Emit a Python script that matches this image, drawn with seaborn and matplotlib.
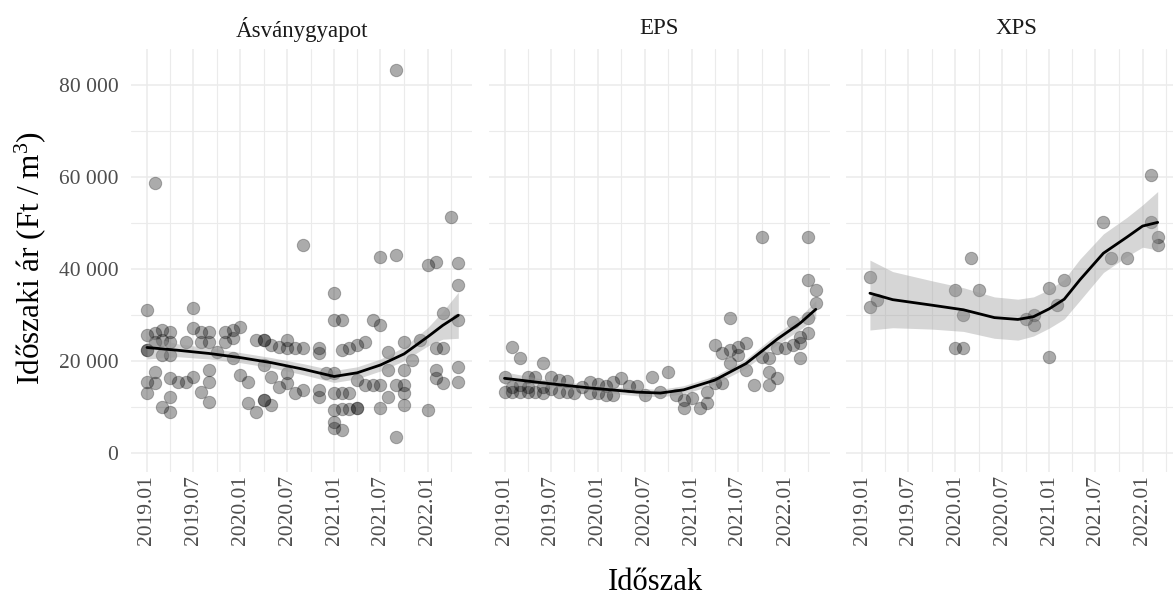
import numpy as np
import pandas as pd
import matplotlib
matplotlib.use("Agg")
import matplotlib.pyplot as plt
import matplotlib.dates as mdates
from matplotlib.ticker import FuncFormatter, MultipleLocator
import seaborn as sns

# ---------------- data ----------------
panels = ["Ásványgyapot", "EPS", "XPS"]

asv_dates = (["2019-01"] * 6 + ["2019-02"] * 5 + ["2019-03"] * 4 + ["2019-04"] * 6 +
             ["2019-05"] * 1 + ["2019-06"] * 2 + ["2019-07"] * 3 + ["2019-08"] * 3 +
             ["2019-09"] * 5 + ["2019-10"] * 1 + ["2019-11"] * 2 + ["2019-12"] * 3 +
             ["2020-01"] * 2 + ["2020-02"] * 2 + ["2020-03"] * 2 + ["2020-04"] * 5 +
             ["2020-05"] * 3 + ["2020-06"] * 2 + ["2020-07"] * 4 + ["2020-08"] * 2 +
             ["2020-09"] * 3 + ["2020-11"] * 4 + ["2020-12"] * 1 + ["2021-01"] * 7 +
             ["2021-02"] * 5 + ["2021-03"] * 3 + ["2021-04"] * 4 + ["2021-05"] * 2 +
             ["2021-06"] * 2 + ["2021-07"] * 4 + ["2021-08"] * 3 + ["2021-09"] * 4 +
             ["2021-10"] * 5 + ["2021-11"] * 1 + ["2021-12"] * 1 + ["2022-01"] * 2 +
             ["2022-02"] * 4 + ["2022-03"] * 3 + ["2022-04"] * 1 + ["2022-05"] * 5)
asv_prices = [31150, 25700, 22450, 22450, 15570, 13040,
              58700, 26090, 24260, 17740, 15220,
              26800, 24630, 21370, 10130,
              26430, 24260, 21370, 16300, 12300, 9040,
              15570,
              24260, 15570,
              31520, 27170, 16650,
              26430, 24260, 13390,
              26430, 24260, 18110, 15570, 11220,
              21960,
              26430, 24260,
              26800, 25000, 20650,
              27520, 17020,
              15570, 10870,
              24630, 9040,
              24630, 24630, 19200, 11590, 11590,
              23540, 16650, 10500,
              23200, 14480,
              24630, 22830, 17390, 15220,
              22830, 13040,
              45280, 22830, 13760,
              22830, 21740, 13760, 12300,
              17390,
              34780, 28980, 17390, 13040, 9410, 6870, 5430,
              28980, 22450, 13040, 9590, 5070,
              22830, 13040, 9590,
              23540, 15930, 9770, 9770,
              24260, 14850,
              28980, 14850,
              42740, 27890, 14850, 9770,
              22090, 18110, 12300,
              83330, 43110, 14850, 3610,
              24260, 18110, 14850, 13040, 10500,
              20280,
              24630,
              40930, 9410,
              41650, 22830, 18110, 16300,
              30430, 22830, 15220,
              51430,
              41300, 36590, 28980, 18830, 15570]

eps_dates = (["2019-01"] * 2 + ["2019-02"] * 3 + ["2019-03"] * 3 + ["2019-04"] * 3 +
             ["2019-05"] * 2 + ["2019-06"] * 3 + ["2019-07"] * 2 + ["2019-08"] * 2 +
             ["2019-09"] * 2 + ["2019-10"] * 1 + ["2019-11"] * 1 + ["2019-12"] * 2 +
             ["2020-01"] * 2 + ["2020-02"] * 2 + ["2020-03"] * 2 + ["2020-04"] * 1 +
             ["2020-05"] * 1 + ["2020-06"] * 1 + ["2020-07"] * 1 + ["2020-08"] * 1 +
             ["2020-09"] * 1 + ["2020-10"] * 1 + ["2020-11"] * 1 + ["2020-12"] * 2 +
             ["2021-01"] * 1 + ["2021-02"] * 1 + ["2021-03"] * 2 + ["2021-04"] * 2 +
             ["2021-05"] * 2 + ["2021-06"] * 3 + ["2021-07"] * 2 + ["2021-08"] * 2 +
             ["2021-09"] * 1 + ["2021-10"] * 2 + ["2021-11"] * 3 + ["2021-12"] * 2 +
             ["2022-01"] * 1 + ["2022-02"] * 2 + ["2022-03"] * 3 + ["2022-04"] * 4 +
             ["2022-05"] * 2)
eps_prices = [16650, 13390,
              23170, 14500, 13390,
              20650, 14900, 13390,
              16650, 14500, 13390,
              16650, 13390,
              19570, 14500, 13000,
              16650, 14000,
              16000, 13390,
              15700, 13390,
              13000,
              14500,
              15500, 13000,
              15000, 13000,
              14600, 12700,
              15500, 12600,
              16300,
              14600,
              14600,
              12600,
              16650,
              13390,
              17740,
              12600,
              11500, 9780,
              11960,
              9780,
              13390, 10870,
              23540, 15220,
              21740, 15220,
              29350, 22450, 19570,
              23170, 21370,
              23910, 18110,
              14850,
              47090, 21000,
              20650, 17740, 14850,
              22830, 16300,
              22830,
              28610, 23540,
              25350, 23910, 20650,
              47090, 37670, 29350, 26090,
              35500, 32610]

xps_dates = (["2019-02"] * 2 + ["2019-03"] * 1 + ["2020-01"] * 2 + ["2020-02"] * 2 +
             ["2020-03"] * 1 + ["2020-04"] * 1 + ["2020-10"] * 1 + ["2020-11"] * 2 +
             ["2021-01"] * 2 + ["2021-02"] * 1 + ["2021-03"] * 1 + ["2021-08"] * 1 +
             ["2021-09"] * 1 + ["2021-11"] * 1 + ["2022-02"] * 2 + ["2022-03"] * 2)
xps_prices = [38390, 31870,
              33330,
              35500, 22830,
              30070, 22830,
              42390,
              35500,
              29130,
              30070, 27890,
              35870, 21000,
              32240,
              37670,
              50350,
              42390,
              42390,
              60500, 50350,
              47090, 45280]

# loess fits: date, fitted value, lower, upper
asv_fit_dates = ["2019-01", "2019-05", "2019-09", "2020-01", "2020-05", "2020-09",
                 "2021-01", "2021-04", "2021-07", "2021-10", "2022-01", "2022-03", "2022-05"]
asv_fit = [23000, 22400, 21700, 20800, 19700, 18300, 16700, 17500, 19200, 21600, 25300, 27800, 30000]
asv_lo = [20500, 21000, 20500, 19700, 18600, 17100, 15400, 16200, 17900, 20100, 23300, 24800, 25000]
asv_hi = [25500, 23800, 22900, 21900, 20800, 19500, 18000, 18800, 20500, 23100, 27300, 30800, 35000]

eps_fit_dates = ["2019-01", "2019-06", "2019-12", "2020-06", "2020-09", "2020-12",
                 "2021-04", "2021-08", "2021-12", "2022-03", "2022-05"]
eps_fit = [16300, 15300, 14200, 13300, 13100, 13800, 15900, 19500, 24800, 28300, 31300]
eps_lo = [14900, 14500, 13500, 12500, 12300, 12900, 15000, 18500, 23600, 26900, 29400]
eps_hi = [17700, 16100, 14900, 14100, 13900, 14700, 16800, 20500, 26000, 29700, 33200]

xps_fit_dates = ["2019-02", "2019-05", "2019-10", "2020-02", "2020-06", "2020-09",
                 "2020-11", "2021-01", "2021-03", "2021-05", "2021-08", "2021-11",
                 "2022-01", "2022-03"]
xps_fit = [34800, 33400, 32200, 31200, 29500, 29100, 29700, 31400, 33500, 37700, 43500, 47000, 49400, 50200]
xps_lo = [26800, 27300, 27000, 26500, 25000, 24600, 25500, 27200, 29200, 33200, 39300, 42800, 44800, 44200]
xps_hi = [42000, 39500, 37500, 36000, 34000, 33500, 34000, 35600, 37800, 42200, 47700, 51300, 54000, 56900]

# ---------------- styling ----------------
sns.set_theme(style="white")
plt.rcParams["font.family"] = ["Liberation Serif", "DejaVu Serif"]
plt.rcParams["mathtext.fontset"] = "custom"
plt.rcParams["mathtext.rm"] = "Liberation Serif"
plt.rcParams["mathtext.it"] = "Liberation Serif"

W, H = 1173, 596
fig = plt.figure(figsize=(W / 100, H / 100), dpi=100)

panel_left_px = [131, 488.5, 846]
panel_w_px = 341
panel_bottom_px = 124
panel_h_px = 423

px_per_day = 0.256
d0 = mdates.date2num(pd.Timestamp("2019-01-01"))
xmin = d0 - 16 / px_per_day
xmax = xmin + panel_w_px / px_per_day
ymin, ymax = -4065, 87890

point_sets = [(asv_dates, asv_prices), (eps_dates, eps_prices), (xps_dates, xps_prices)]
fit_sets = [(asv_fit_dates, asv_fit, asv_lo, asv_hi),
            (eps_fit_dates, eps_fit, eps_lo, eps_hi),
            (xps_fit_dates, xps_fit, xps_lo, xps_hi)]

grid_col = "#EBEBEB"
tick_col = "#4D4D4D"

for i, name in enumerate(panels):
    ax = fig.add_axes([panel_left_px[i] / W, panel_bottom_px / H, panel_w_px / W, panel_h_px / H])
    ax.set_facecolor("white")
    dts, vals = point_sets[i]
    df = pd.DataFrame({"date": pd.to_datetime(dts), "price": vals})
    sns.scatterplot(data=df, x="date", y="price", ax=ax, s=80, color="black",
                    alpha=0.33, edgecolor="#222222", linewidth=0.7, zorder=3)
    fd, fv, flo, fhi = fit_sets[i]
    fdf = pd.DataFrame({"date": pd.to_datetime(fd), "fit": fv, "lo": flo, "hi": fhi})
    ax.fill_between(fdf["date"], fdf["lo"], fdf["hi"], color="#999999", alpha=0.4,
                    linewidth=0, zorder=4)
    sns.lineplot(data=fdf, x="date", y="fit", ax=ax, color="black", linewidth=2.0, zorder=5)

    ax.set_xlim(xmin, xmax)
    ax.set_ylim(ymin, ymax)
    ax.xaxis.set_major_locator(mdates.MonthLocator(bymonth=[1, 7]))
    ax.xaxis.set_minor_locator(mdates.MonthLocator(bymonth=[4, 10]))
    ax.xaxis.set_major_formatter(mdates.DateFormatter("%Y.%m"))
    ax.yaxis.set_major_locator(MultipleLocator(20000))
    ax.yaxis.set_minor_locator(MultipleLocator(10000))
    ax.yaxis.set_major_formatter(FuncFormatter(lambda v, p: f"{int(round(v)):,}".replace(",", " ")))
    ax.grid(which="major", color=grid_col, linewidth=1.1, zorder=0)
    ax.grid(which="minor", color=grid_col, linewidth=0.8, zorder=0)
    ax.set_axisbelow(True)
    for s in ax.spines.values():
        s.set_visible(False)
    ax.tick_params(axis="both", which="both", length=0)
    ax.tick_params(axis="x", labelrotation=90, labelsize=15.5, labelcolor=tick_col, pad=2)
    ax.tick_params(axis="y", labelsize=15.5, labelcolor=tick_col, pad=9)
    if i > 0:
        ax.tick_params(axis="y", labelleft=False)
    ax.set_xlabel("")
    ax.set_ylabel("")
    cx = (panel_left_px[i] + panel_w_px / 2) / W
    fig.text(cx, 1 - 29 / H, name, ha="center", va="center", fontsize=16.5, color="#1A1A1A")

fig.text(655 / W, 1 - 582 / H, "Időszak", ha="center", va="center", fontsize=22, color="black")
fig.text(30 / W, 1 - 258 / H, "Időszaki ár (Ft / m$^{3}$)", ha="center", va="center",
         rotation=90, fontsize=22.5, color="black")

fig.savefig("out.png", dpi=100)
